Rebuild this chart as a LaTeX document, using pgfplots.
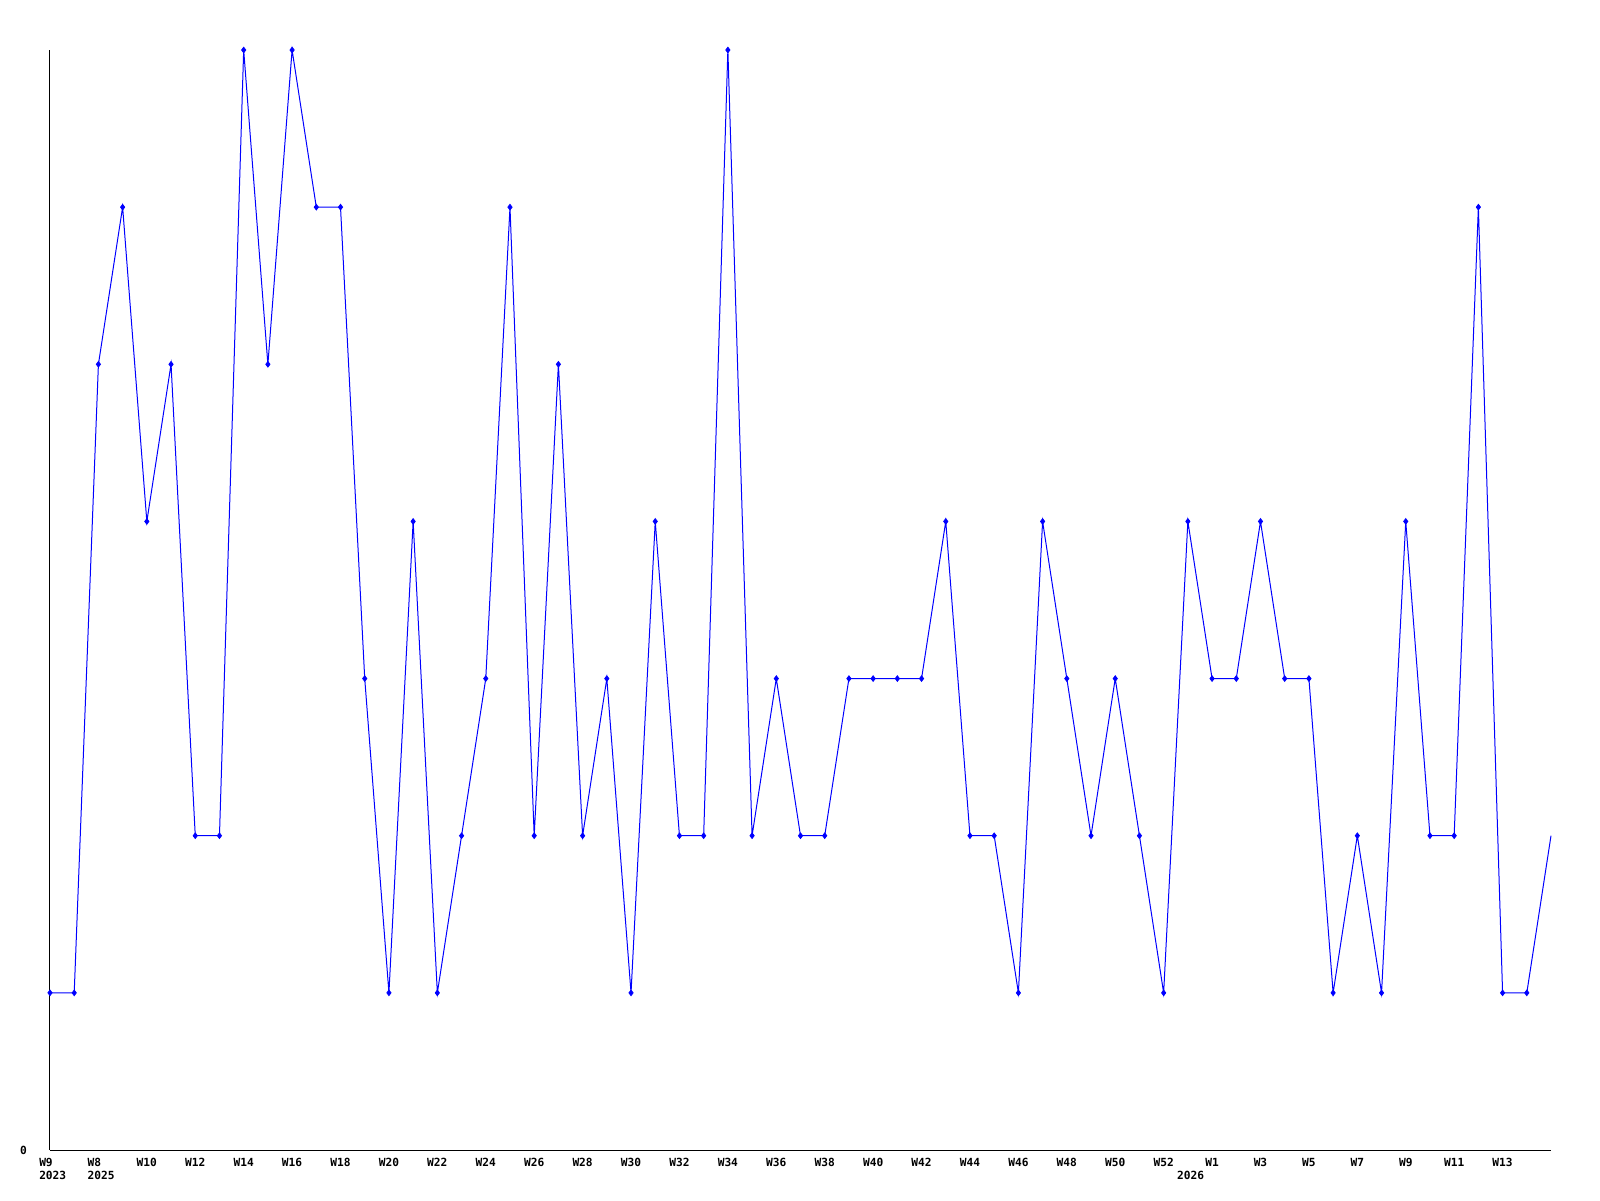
\documentclass[border=0pt]{standalone}
\usepackage{pgfplots}
\usepackage{pgfplotstable}
\pgfplotsset{compat=1.18}
\usepackage{fontspec}
\setmainfont{DejaVu Sans Mono}
\pgfplotstableread{
x y
0 1
1 1
2 5
3 6
4 4
5 5
6 2
7 2
8 7
9 5
10 7
11 6
12 6
13 3
14 1
15 4
16 1
17 2
18 3
19 6
20 2
21 5
22 2
23 3
24 1
25 4
26 2
27 2
28 7
29 2
30 3
31 2
32 2
33 3
34 3
35 3
36 3
37 4
38 2
39 2
40 1
41 4
42 3
43 2
44 3
45 2
46 1
47 4
48 3
49 3
50 4
51 3
52 3
53 1
54 2
55 1
56 4
57 2
58 2
59 6
60 1
61 1
62 2
}\data
\newcommand{\tl}[2]{\kern-2pt\begin{tabular}{@{}l@{}}#1\\\rlap{#2}\end{tabular}\kern2pt}
\begin{document}
\begin{tikzpicture}
\path[use as bounding box] (0,0) rectangle (800pt,600pt);
\begin{axis}[
  at={(25pt,25pt)}, anchor=origin,
  scale only axis, width=750.5pt, height=550pt,
  xmin=0, xmax=62, ymin=0, ymax=7,
  axis x line=bottom, axis y line=left,
  axis line style={-, black, line width=0.5pt},
  major tick length=0pt,
  xtick={0,2,...,60},
  xticklabels={\tl{W9}{2023},\tl{W8}{2025},W10,W12,W14,W16,W18,W20,W22,W24,W26,W28,W30,W32,W34,W36,W38,W40,W42,W44,W46,W48,W50,W52,W1,W3,W5,W7,W9,W11,W13},
  extra x ticks={47},
  extra x tick labels={\tl{\phantom{W1}}{2026}},
  ytick={0}, yticklabels={0},
  tick label style={font=\fontsize{5.6}{6.5}\selectfont\bfseries},
  xticklabel style={anchor=north, yshift=-0.4pt},
  yticklabel style={xshift=-8pt},
  clip=false,
]
\addplot[blue, line width=0.5pt] table {\data};
\addplot[only marks, blue, mark=diamond*, mark size=1.4pt, restrict x to domain=0:61] table {\data};
\end{axis}
\end{tikzpicture}
\end{document}
